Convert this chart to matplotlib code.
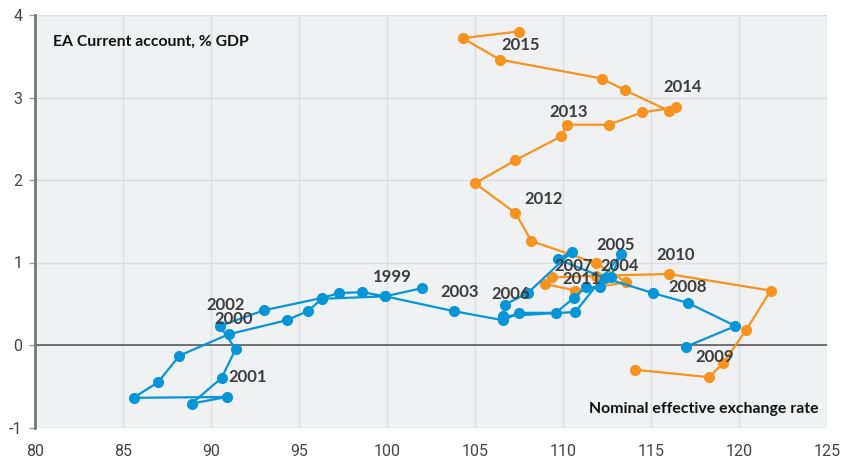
import matplotlib
matplotlib.use("Agg")
import matplotlib.pyplot as plt

# blue path (1999 - 2009), nominal effective exchange rate vs current account % GDP
blue_x = [102.0, 99.9, 96.3, 95.5, 94.3, 91.0, 88.2, 87.0, 85.6, 90.9, 88.9, 90.6, 91.4,
          90.5, 93.0, 96.3, 97.3, 98.6, 99.9, 103.8, 106.6, 107.5, 109.6, 110.6, 111.3,
          112.1, 112.7, 113.3, 110.7, 106.6, 106.7, 108.0, 110.5, 109.7, 112.4, 115.1,
          117.1, 119.8, 117.0]
blue_y = [0.69, 0.59, 0.56, 0.41, 0.30, 0.13, -0.13, -0.45, -0.64, -0.63, -0.71, -0.40,
          -0.05, 0.23, 0.42, 0.57, 0.63, 0.64, 0.59, 0.41, 0.30, 0.39, 0.39, 0.57, 0.70,
          0.70, 0.82, 1.10, 0.40, 0.35, 0.49, 0.63, 1.13, 1.04, 0.81, 0.63, 0.51, 0.23,
          -0.02]

# orange path (2009 - 2015)
orange_x = [114.1, 118.3, 119.1, 120.4, 121.8, 116.0, 111.9, 109.4, 109.0, 110.7, 113.6,
            111.9, 108.2, 107.3, 105.0, 107.3, 109.9, 110.2, 112.6, 114.5, 116.4, 116.0,
            113.5, 112.2, 106.4, 104.3, 107.5]
orange_y = [-0.30, -0.39, -0.22, 0.18, 0.66, 0.86, 0.84, 0.82, 0.74, 0.66, 0.76, 0.99,
            1.26, 1.60, 1.96, 2.24, 2.53, 2.67, 2.67, 2.82, 2.88, 2.84, 3.09, 3.23, 3.46,
            3.72, 3.80]

# year labels
years = ['1999', '2000', '2001', '2002', '2003', '2004', '2005', '2006', '2007', '2008',
         '2009', '2010', '2011', '2012', '2013', '2014', '2015']
label_x = [100.3, 91.3, 92.1, 90.85, 104.1, 113.2, 113.0, 107.0, 110.6, 117.1, 118.6,
           116.4, 111.05, 108.9, 110.3, 116.8, 107.6]
label_y = [0.83, 0.32, -0.39, 0.48, 0.64, 0.96, 1.21, 0.62, 0.96, 0.70, -0.15, 1.09,
           0.80, 1.77, 2.82, 3.13, 3.64]

x_ticks = [80, 85, 90, 95, 100, 105, 110, 115, 120, 125]
y_ticks = [-1, 0, 1, 2, 3, 4]

blue = '#0795d7'
orange = '#f7931e'

fig = plt.figure(figsize=(8.46, 4.62), dpi=100)
ax = fig.add_axes([35 / 846, 1 - 427.5 / 462, 792 / 846, 412.5 / 462])
ax.set_facecolor('#f0f1f3')

ax.plot(orange_x, orange_y, color=orange, lw=1.6, marker='o', ms=7, zorder=3)
ax.plot(blue_x, blue_y, color=blue, lw=1.6, marker='o', ms=7, zorder=4)
ax.axhline(0, color='#666666', lw=1.3, zorder=2)

for t, x, y in zip(years, label_x, label_y):
    ax.text(x, y, t, ha='center', va='center', fontsize=12, fontweight='bold',
            family='Lato', color='#3c3c3c', zorder=5)

ax.text(81.0, 3.68, 'EA Current account, % GDP', ha='left', va='center', fontsize=11.3,
        fontweight='bold', family='Lato', color='#111111')
ax.text(124.55, -0.775, 'Nominal effective exchange rate', ha='right', va='center',
        fontsize=11.4, fontweight='bold', family='Lato', color='#111111')

ax.set_xlim(80, 125)
ax.set_ylim(-1, 4)
ax.set_xticks(x_ticks)
ax.set_yticks(y_ticks)
ax.set_xticklabels([str(v) for v in x_ticks], family='Roboto', fontsize=11.5, color='#444444')
ax.set_yticklabels([str(v) for v in y_ticks], family='Roboto', fontsize=11.5, color='#444444')
ax.tick_params(axis='x', length=0, pad=12)
ax.tick_params(axis='y', length=4, width=1, color='#999999', pad=5)
ax.grid(True, color='#dcdde0', lw=1, zorder=0)
ax.set_axisbelow(True)

for s in ['top', 'right', 'bottom']:
    ax.spines[s].set_visible(False)
ax.spines['left'].set_color('#777777')
ax.spines['left'].set_linewidth(2)

fig.savefig('out.png', dpi=100)
